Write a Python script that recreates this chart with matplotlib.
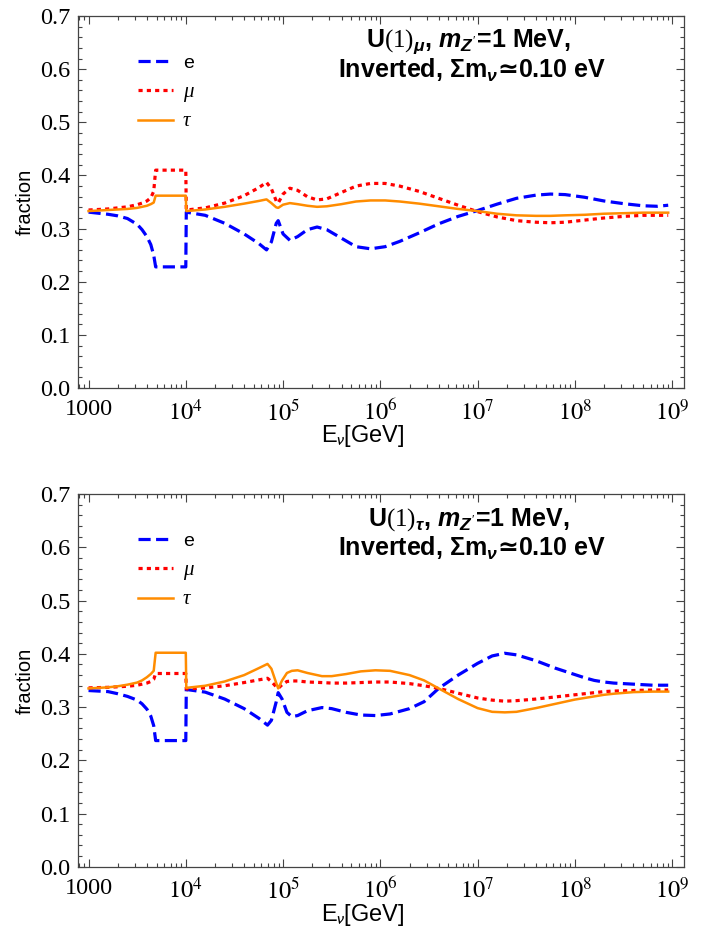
import numpy as np
import matplotlib
matplotlib.use("Agg")
import matplotlib.pyplot as plt
from matplotlib.ticker import LogLocator, NullFormatter, MultipleLocator

plt.rcParams["font.family"] = "Liberation Serif"
plt.rcParams["mathtext.fontset"] = "stix"
# 'custom' set is only used by the bold panel titles
plt.rcParams["mathtext.rm"] = "Liberation Serif"
plt.rcParams["mathtext.it"] = "Liberation Sans:italic:bold"
plt.rcParams["mathtext.bf"] = "DejaVu Sans:bold"
plt.rcParams["mathtext.fallback"] = "stixsans"

# log10(E/GeV) grid for each panel
logE_mu = [3.0, 3.2, 3.3, 3.4, 3.5, 3.55, 3.6, 3.64, 3.67, 3.69, 4.0, 4.005, 4.2, 4.4,
           4.6, 4.75, 4.83, 4.88, 4.93, 4.95, 5.0, 5.07, 5.15, 5.25, 5.35, 5.45, 5.6,
           5.75, 5.9, 6.05, 6.2, 6.4, 6.6, 6.8, 7.0, 7.2, 7.4, 7.6, 7.75, 7.9, 8.1, 8.3,
           8.5, 8.7, 8.85, 8.96]
e_mu = [0.331, 0.327, 0.324, 0.319, 0.308, 0.298, 0.285, 0.27, 0.25, 0.228, 0.228, 0.331,
        0.325, 0.31, 0.29, 0.272, 0.26, 0.275, 0.31, 0.315, 0.29, 0.278, 0.285, 0.298,
        0.303, 0.298, 0.282, 0.266, 0.262, 0.266, 0.276, 0.292, 0.309, 0.323, 0.334,
        0.346, 0.357, 0.363, 0.365, 0.364, 0.359, 0.352, 0.347, 0.343, 0.342, 0.344]
mu_mu = [0.335, 0.337, 0.339, 0.341, 0.345, 0.348, 0.352, 0.358, 0.37, 0.41, 0.41, 0.335,
         0.339, 0.348, 0.362, 0.377, 0.387, 0.375, 0.352, 0.348, 0.365, 0.376, 0.372,
         0.36, 0.354, 0.356, 0.368, 0.38, 0.385, 0.385, 0.38, 0.37, 0.357, 0.344, 0.332,
         0.322, 0.315, 0.312, 0.311, 0.312, 0.316, 0.32, 0.323, 0.325, 0.325, 0.325]
tau_mu = [0.333, 0.335, 0.336, 0.337, 0.339, 0.341, 0.343, 0.346, 0.349, 0.362, 0.362,
          0.333, 0.336, 0.341, 0.347, 0.352, 0.355, 0.348, 0.34, 0.339, 0.345, 0.348,
          0.346, 0.343, 0.341, 0.342, 0.346, 0.351, 0.353, 0.353, 0.351, 0.347, 0.342,
          0.337, 0.333, 0.328, 0.325, 0.324, 0.324, 0.325, 0.326, 0.328, 0.329, 0.33,
          0.33, 0.33]

logE_tau = [3.0, 3.2, 3.3, 3.4, 3.5, 3.55, 3.6, 3.64, 3.67, 3.69, 4.0, 4.005, 4.2, 4.4,
            4.6, 4.75, 4.84, 4.88, 4.93, 4.95, 4.99, 5.04, 5.09, 5.15, 5.25, 5.4, 5.5,
            5.65, 5.8, 5.95, 6.1, 6.3, 6.45, 6.6, 6.8, 7.0, 7.15, 7.28, 7.4, 7.6, 7.8,
            8.0, 8.1, 8.2, 8.3, 8.4, 8.6, 8.8, 8.96]
e_tau = [0.331, 0.329, 0.325, 0.32, 0.313, 0.306, 0.296, 0.283, 0.265, 0.237, 0.237,
         0.333, 0.328, 0.315, 0.297, 0.279, 0.266, 0.275, 0.31, 0.327, 0.315, 0.29, 0.282,
         0.284, 0.293, 0.299, 0.297, 0.29, 0.285, 0.284, 0.287, 0.297, 0.31, 0.335, 0.36,
         0.382, 0.396, 0.401, 0.398, 0.387, 0.373, 0.361, 0.355, 0.35, 0.347, 0.345,
         0.343, 0.341, 0.341]
mu_tau = [0.336, 0.337, 0.338, 0.339, 0.341, 0.343, 0.345, 0.348, 0.352, 0.363, 0.363,
          0.334, 0.336, 0.34, 0.346, 0.351, 0.354, 0.348, 0.338, 0.335, 0.342, 0.348,
          0.349, 0.349, 0.347, 0.346, 0.345, 0.345, 0.346, 0.347, 0.347, 0.344, 0.34,
          0.335, 0.326, 0.317, 0.313, 0.311, 0.312, 0.315, 0.319, 0.323, 0.325, 0.327,
          0.329, 0.33, 0.331, 0.332, 0.332]
tau_tau = [0.335, 0.337, 0.339, 0.342, 0.346, 0.35, 0.356, 0.362, 0.368, 0.402, 0.402,
           0.336, 0.34, 0.348, 0.36, 0.373, 0.381, 0.372, 0.345, 0.335, 0.35, 0.364,
           0.368, 0.369, 0.364, 0.358, 0.358, 0.362, 0.367, 0.369, 0.368, 0.36, 0.35,
           0.335, 0.315, 0.298, 0.291, 0.29, 0.291, 0.298, 0.306, 0.314, 0.317, 0.32,
           0.323, 0.325, 0.328, 0.329, 0.329]

panels = [
    (logE_mu, e_mu, mu_mu, tau_mu, r"U$(1)_{\mu}$, $m_{Z'}$=1 MeV,"),
    (logE_tau, e_tau, mu_tau, tau_tau, r"U$(1)_{\tau}$, $m_{Z'}$=1 MeV,"),
]
subtitle = r"Inverted, Σm$_{\nu}\mathbf{≃}$0.10 eV"
xtick_vals = [1e3, 1e4, 1e5, 1e6, 1e7, 1e8, 1e9]
xtick_labels = ["1000", "$10^{4}$", "$10^{5}$", "$10^{6}$", "$10^{7}$", "$10^{8}$", "$10^{9}$"]
ytick_vals = [0.0, 0.1, 0.2, 0.3, 0.4, 0.5, 0.6, 0.7]

fig = plt.figure(figsize=(7.02, 9.27), dpi=100)
boxes = [[0.1104, 0.5814, 0.8637, 0.4013], [0.1104, 0.065, 0.8637, 0.402]]
frame = "#444444"

for box, (logE, e, mu, tau, title) in zip(boxes, panels):
    ax = fig.add_axes(box)
    E = 10 ** np.array(logE)
    l1, = ax.plot(E, e, color="#0000ff", lw=2.3, dashes=(3.8, 1.7))
    l2, = ax.plot(E, mu, color="#ff0000", lw=2.3, dashes=(1.3, 1.3))
    l3, = ax.plot(E, tau, color="#ff8c00", lw=1.8)
    l1.set_dash_capstyle("butt")
    l2.set_dash_capstyle("butt")

    ax.set_xscale("log")
    ax.set_xlim(770, 1.32e9)
    ax.set_ylim(0, 0.7)
    ax.set_xticks(xtick_vals, xtick_labels)
    ax.xaxis.set_minor_locator(LogLocator(base=10, subs=np.arange(2, 10), numticks=20))
    ax.xaxis.set_minor_formatter(NullFormatter())
    ax.set_yticks(ytick_vals, ["%.1f" % v for v in ytick_vals])
    ax.yaxis.set_minor_locator(MultipleLocator(0.02))
    ax.tick_params(which="both", direction="in", top=True, right=True, color=frame,
                   width=0.8, labelsize=17.5)
    ax.tick_params(which="major", length=6)
    ax.tick_params(which="minor", length=3)
    ax.tick_params(axis="x", pad=8)
    ax.tick_params(axis="y", pad=5)
    for sp in ax.spines.values():
        sp.set_color(frame)
        sp.set_linewidth(0.9)

    ax.set_xlabel(r"E$_{\nu}$[GeV]", fontfamily="Liberation Sans", math_fontfamily="stixsans",
                  fontsize=17)
    ax.xaxis.set_label_coords(0.471, -0.094)
    ax.set_ylabel("fraction", fontfamily="Liberation Sans", fontsize=14.5)
    ax.yaxis.set_label_coords(-0.07, 0.5)

    leg = ax.legend([l1, l2, l3], ["e", "μ", "τ"], loc="upper left",
                    bbox_to_anchor=(0.0998, 0.897), frameon=False, handlelength=1.8,
                    handletextpad=0.5, labelspacing=0.55, borderpad=0, borderaxespad=0,
                    prop={"family": "Liberation Sans", "size": 14})
    for t in leg.get_texts()[1:]:
        t.set_fontfamily("Liberation Serif")
        t.set_fontstyle("italic")
        t.set_fontsize(15)

    ax.text(0.645, 0.931, title, transform=ax.transAxes, ha="center", va="center",
            fontsize=18, fontweight="bold", fontfamily="Liberation Sans",
            math_fontfamily="custom")
    ax.text(0.65, 0.855, subtitle, transform=ax.transAxes, ha="center", va="center",
            fontsize=18, fontweight="bold", fontfamily="Liberation Sans",
            math_fontfamily="custom")

fig.savefig("out.png", dpi=100)
